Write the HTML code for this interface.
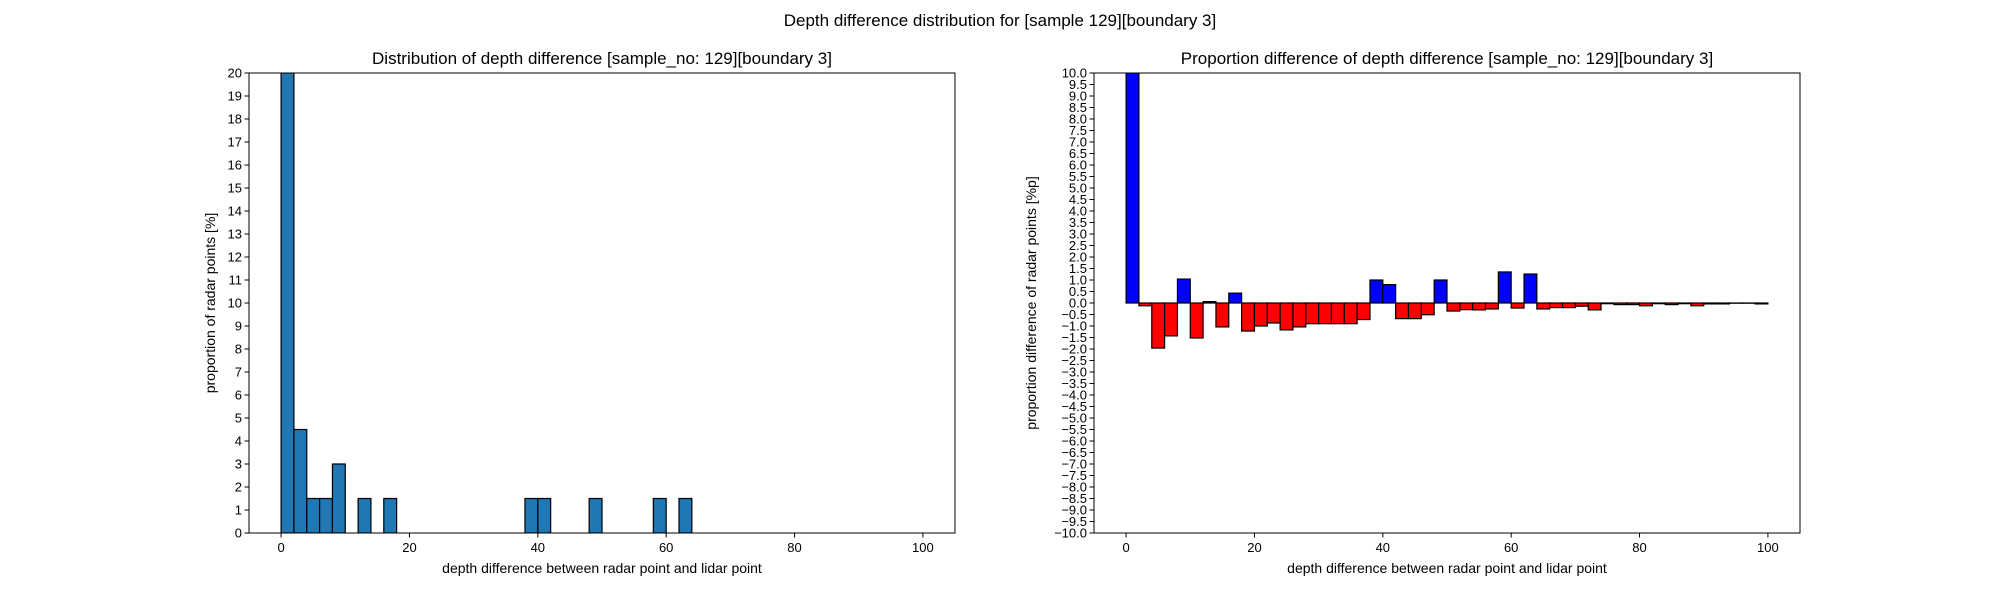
<!DOCTYPE html>
<html><head><meta charset="utf-8"><style>
html,body{margin:0;padding:0;background:#fff}
svg text{font-family:"Liberation Sans","DejaVu Sans",sans-serif;fill:#000}
</style></head><body>
<svg id="fig" width="2000" height="600" xmlns="http://www.w3.org/2000/svg">
<rect width="2000" height="600" fill="#fff"/>
<text x="1000" y="26" font-size="17" text-anchor="middle">Depth difference distribution for [sample 129][boundary 3]</text>
</svg>
<script>
const binStarts = [0,2,4,6,8,10,12,14,16,18,20,22,24,26,28,30,32,34,36,38,40,42,44,46,48,50,52,54,56,58,60,62,64,66,68,70,72,74,76,78,80,82,84,86,88,90,92,94,96,98];
const distValues = [79,4.5,1.5,1.5,3,0,1.5,0,1.5,0,0,0,0,0,0,0,0,0,0,1.5,1.5,0,0,0,1.5,0,0,0,0,1.5,0,1.5,0,0,0,0,0,0,0,0,0,0,0,0,0,0,0,0,0,0];
const diffValues = [14,-0.12,-1.96,-1.43,1.04,-1.52,0.06,-1.04,0.43,-1.22,-1.0,-0.87,-1.17,-1.04,-0.9,-0.9,-0.9,-0.9,-0.72,1.0,0.8,-0.68,-0.68,-0.51,1.0,-0.35,-0.29,-0.3,-0.26,1.35,-0.22,1.26,-0.26,-0.2,-0.2,-0.14,-0.3,-0.03,-0.07,-0.07,-0.12,-0.03,-0.07,-0.03,-0.12,-0.04,-0.04,-0.01,-0.01,-0.04];
const xTicks = [0,20,40,60,80,100];
const leftYTicks = [0,1,2,3,4,5,6,7,8,9,10,11,12,13,14,15,16,17,18,19,20];
const rightYTicks = [];
for (let v=-10; v<=10.001; v+=0.5) rightYTicks.push(Math.round(v*10)/10);
const binWidth = 2;

const NS="http://www.w3.org/2000/svg";
const svg=document.getElementById('fig');
function mk(tag, attrs, parent){const e=document.createElementNS(NS,tag);for(const k in attrs)e.setAttribute(k,attrs[k]);(parent||svg).appendChild(e);return e;}

function panel(cfg){
  const g=mk('g',{});
  
  
  const L=cfg.x0,R=cfg.x1,T=73,B=533;
  const xs=v=>L+(v-(-5))/(110)*(R-L);
  const ys=v=>B-(v-cfg.ymin)/(cfg.ymax-cfg.ymin)*(B-T);
  const clip=mk('clipPath',{id:cfg.name+'-clip'},g);
  mk('rect',{x:L,y:T,width:R-L,height:B-T},clip);
  const bars=mk('g',{'clip-path':'url(#'+cfg.name+'-clip)'},g);
  cfg.values.forEach((v,i)=>{
    if(cfg.skipZero && v===0) return;
    const x=xs(binStarts[i]), w=xs(binStarts[i]+binWidth)-x;
    const y0=ys(0), y1=ys(v);
    const color=cfg.colorFn(v);
    const r=mk('rect',{x:x,y:Math.min(y0,y1),width:w,height:Math.max(Math.abs(y1-y0),0.01),fill:color,stroke:'#000','stroke-width':1.2},bars);
    
    
  });
  const frame=mk('rect',{x:L,y:T,width:R-L,height:B-T,fill:'none',stroke:'#000','stroke-width':1},g);
  
  
  xTicks.forEach(t=>{
    const x=xs(t);
    mk('line',{x1:x,x2:x,y1:B,y2:B+4.5,stroke:'#000','stroke-width':1},g);
    const tx=mk('text',{x:x,y:B+19,'font-size':13,'text-anchor':'middle'},g);
    tx.textContent=t;
    
    
  });
  cfg.yTicks.forEach(t=>{
    const y=ys(t);
    mk('line',{x1:L-4.5,x2:L,y1:y,y2:y,stroke:'#000','stroke-width':1},g);
    const tx=mk('text',{x:L-7,y:y+4.5,'font-size':13,'text-anchor':'end'},g);
    tx.textContent=cfg.fmt(t);
    
    
  });
  const ti=mk('text',{x:(L+R)/2,y:64,'font-size':17,'text-anchor':'middle'},g);
  ti.textContent=cfg.title;
  
  
  const xl=mk('text',{x:(L+R)/2,y:573,'font-size':14,'text-anchor':'middle'},g);
  xl.textContent='depth difference between radar point and lidar point';
  
  
  const yl=mk('text',{x:0,y:0,'font-size':14,'text-anchor':'middle',transform:'translate('+cfg.ylx+','+((T+B)/2)+') rotate(-90)'},g);
  yl.textContent=cfg.ylabel;
  
  
}
panel({name:'distribution-chart',x0:249,x1:955,ymin:0,ymax:20,values:distValues,skipZero:true,
  colorFn:()=>'#1f77b4',yTicks:leftYTicks,fmt:t=>String(t),
  title:'Distribution of depth difference [sample_no: 129][boundary 3]',ylabel:'proportion of radar points [%]',ylx:215});
panel({name:'proportion-difference-chart',x0:1094,x1:1800,ymin:-10,ymax:10,values:diffValues,skipZero:false,
  colorFn:v=>v>=0?'#0000ff':'#ff0000',yTicks:rightYTicks,fmt:t=>(t<0?'\u2212':'')+Math.abs(t).toFixed(1),
  title:'Proportion difference of depth difference [sample_no: 129][boundary 3]',ylabel:'proportion difference of radar points [%p]',ylx:1036});
</script>
</body></html>
